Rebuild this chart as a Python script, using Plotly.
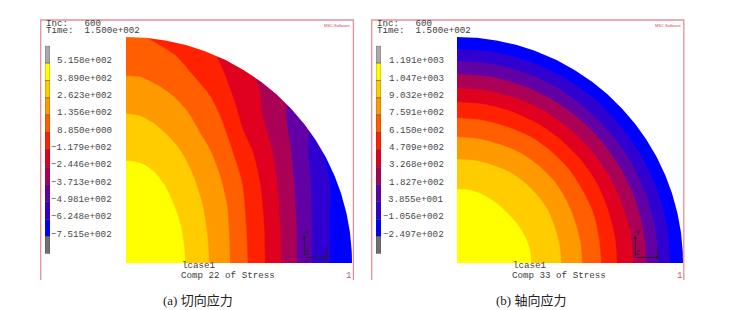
import numpy as np
import plotly.graph_objects as go

W, H = 735, 310

# ---------- values ----------
band_colors = ["#FFFF00", "#FFCC00", "#FF9900", "#FF5F00", "#FF2200",
               "#E0001F", "#AA0055", "#6000A5", "#3000D0", "#0000FF"]
outer_radius = 226
axis_span = 230

labels_a = ["5.158e+002", "3.890e+002", "2.623e+002", "1.356e+002", "8.850e+000", "\u22121.179e+002",
            "\u22122.446e+002", "\u22123.713e+002", "\u22124.981e+002", "\u22126.248e+002", "\u22127.515e+002"]
labels_b = ["1.191e+003", "1.047e+003", "9.032e+002", "7.591e+002", "6.150e+002", "4.709e+002",
            "3.268e+002", "1.827e+002", "3.855e+001", "\u22121.056e+002", "\u22122.497e+002"]
legend_colors = ["#ABABAB"] + band_colors + ["#707070"]

# Panel (a) iso-stress contours
a1_x = [0, 14, 27, 39, 47, 54, 58, 59]
a1_y = [102, 100, 92, 77, 60, 40, 17, 0]
a2_x = [0, 14, 27, 41, 54, 66, 76, 81, 83]
a2_y = [149, 147, 140, 128, 113, 90, 60, 30, 0]
a3_x = [0, 14, 31, 47, 61, 74, 84, 94, 101, 103, 104]
a3_y = [187, 186, 178, 167, 152, 130, 113, 87, 57, 30, 0]
a4_x = [19, 33, 50, 65, 77, 84, 94, 106, 116, 120, 121.5]
a4_y = [226, 218, 207, 190, 176, 167, 147, 113, 80, 37, 0]
a5_x = [91, 99, 109, 117, 126, 134, 138, 139]
a5_y = [206, 188, 160, 133, 113, 80, 37, 0]
a6_x = [130, 134, 136, 141, 146, 151, 154, 155]
a6_y = [185, 170, 150, 130, 113, 80, 37, 0]
a7_x = [161, 160, 164, 165, 168, 170.5, 170.5]
a7_y = [157, 147, 120, 113, 80, 37, 0]
a8_x = [183, 182, 184.7, 185.7, 185.7]
a8_y = [128.5, 113, 80, 47, 0]
a9_x = [195.7, 204, 203.5, 204]
a9_y = [113, 80, 47, 0]

# Panel (b) iso-stress contours, radius read at each angle
b_angles = [0, 10, 20, 30, 40, 50, 60, 70, 80, 90]
b1_r = [74, 74, 73, 72, 71, 71, 72, 73, 74, 74]
b2_r = [104, 104, 104, 105, 105, 105, 105, 104, 104, 104]
b3_r = [125, 125, 125, 126, 127, 127, 127, 126, 126, 126]
b4_r = [144, 144, 145, 145, 146, 146, 146, 145, 145, 145]
b5_r = [160, 160, 160, 161, 161, 161, 161, 161, 161, 161]
b6_r = [176, 176, 175, 175, 175, 175, 175, 175, 175, 175]
b7_r = [189, 189, 189, 189, 189, 189, 189, 189, 189, 189]
b8_r = [201, 201, 201, 201, 201, 201, 202, 202, 202, 202]
b9_r = [213, 213, 213, 213, 213, 214, 214, 214, 214, 214]

# ---------- helpers ----------
px = lambda x: x / W
py = lambda y: 1 - y / H
fig = go.Figure()
FAR = outer_radius + 30  # beyond the axis range, so clipped away


def add_base(color, xa, ya):
    fig.add_trace(go.Scatter(x=[0, FAR, FAR, 0, 0], y=[0, 0, FAR, FAR, 0], mode="lines",
                             fill="toself", fillcolor=color, line=dict(width=0),
                             hoverinfo="skip", showlegend=False, xaxis=xa, yaxis=ya))


def add_mask(xa, ya):
    # everything beyond the outer circle stays white
    t = np.radians(np.linspace(90, 0, 180))
    fig.add_trace(go.Scatter(x=np.r_[outer_radius * np.cos(t), FAR, FAR, -FAR, -FAR, 0],
                             y=np.r_[outer_radius * np.sin(t), 0, FAR, FAR, outer_radius, outer_radius],
                             mode="lines", fill="toself", fillcolor="white", line=dict(width=0),
                             hoverinfo="skip", showlegend=False, xaxis=xa, yaxis=ya))


def add_region(cx, cy, color, xa, ya):
    cx, cy = list(map(float, cx)), list(map(float, cy))
    # lead-in beyond the axes / outer circle: the curve stays smooth where it is visible
    if cx[0] == 0:
        sx, sy = -cx[1], cy[1]
    else:
        sx, sy = 2 * cx[0] - cx[1], 2 * cy[0] - cy[1]
    ex, ey = cx[-1], -cy[-2]
    xs = [sx] + cx + [ex, ex, -FAR, -FAR, sx, sx]
    ys = [sy] + cy + [ey, -FAR, -FAR, FAR, FAR, sy]
    fig.add_trace(go.Scatter(x=xs, y=ys, mode="lines", fill="toself", fillcolor=color,
                             line=dict(width=0.4, color=color, shape="spline", smoothing=0.8),
                             hoverinfo="skip", showlegend=False, xaxis=xa, yaxis=ya))


def add_legend(colors, xa, ya):
    n = len(colors)
    fig.add_trace(go.Bar(x=[0] * n, y=[1] * n, base=list(range(n - 1, -1, -1)), width=1,
                         marker=dict(color=colors, line=dict(width=0.6, color="rgba(50,50,50,0.65)")),
                         hoverinfo="skip", showlegend=False, xaxis=xa, yaxis=ya))


def text(x, y, s, size=9.2, color="#3c3c3c", anchor="left", family="Liberation Mono"):
    fig.add_annotation(x=px(x), y=py(y), xref="paper", yref="paper", text=s, showarrow=False,
                       xanchor=anchor, yanchor="middle", align="left",
                       font=dict(size=size, color=color, family=family), borderpad=0, borderwidth=0)


# ---------- quarter sections ----------
add_base(band_colors[9], "x", "y")
for cx, cy, col in zip([a9_x, a8_x, a7_x, a6_x, a5_x, a4_x, a3_x, a2_x, a1_x],
                       [a9_y, a8_y, a7_y, a6_y, a5_y, a4_y, a3_y, a2_y, a1_y],
                       band_colors[8::-1]):
    add_region(cx, cy, col, "x", "y")
add_mask("x", "y")

add_base(band_colors[9], "x2", "y2")
th = np.radians(b_angles)
for r, col in zip([b9_r, b8_r, b7_r, b6_r, b5_r, b4_r, b3_r, b2_r, b1_r], band_colors[8::-1]):
    r = np.asarray(r, float)
    add_region((r * np.cos(th))[::-1], (r * np.sin(th))[::-1], col, "x2", "y2")
add_mask("x2", "y2")

add_legend(legend_colors, "x3", "y3")
add_legend(legend_colors, "x4", "y4")

# ---------- axes (whole-pixel domains keep the clip edges crisp) ----------
hidden = dict(visible=False, showgrid=False, zeroline=False, fixedrange=True)
for name, x0 in (("", 126), ("2", 457)):
    fig.update_layout({
        "xaxis" + name: dict(hidden, domain=[px(x0), px(x0 + axis_span)], range=[0, axis_span]),
        "yaxis" + name: dict(hidden, domain=[py(263), py(263 - axis_span)], range=[0, axis_span]),
    })
for name, x0 in (("3", 45), ("4", 376)):
    fig.update_layout({
        "xaxis" + name: dict(hidden, domain=[px(x0), px(x0 + 5)], range=[-0.5, 0.5]),
        "yaxis" + name: dict(hidden, domain=[py(253.8), py(45.8)], range=[0, 12]),
    })

# ---------- legend labels ----------
for labels, xr, yr, right in ((labels_a, "x3", "y3", 112), (labels_b, "x4", "y4", 443.5)):
    x0 = 45 if xr == "x3" else 376
    for i, s in enumerate(labels):
        fig.add_annotation(x=0.5, y=11 - i, xref=xr, yref=yr, text=s, showarrow=False,
                           xanchor="right", yanchor="middle", xshift=right - (x0 + 5), yshift=2.2,
                           borderpad=0, borderwidth=0,
                           font=dict(size=9.2, color="#484848", family="Liberation Mono"))

# ---------- frames and panel texts ----------
for off, cap, comp, cap_x in ((0, "(a) 切向应力", "Comp 22 of Stress", 198),
                              (331, "(b) 轴向应力", "Comp 33 of Stress", 530.7)):
    x0, x1 = px(40.7 + off), px(353.4 + off - (0.6 if off else 0))
    y0, y1 = py(280), py(20)
    fig.add_shape(type="path", xref="paper", yref="paper",
                  path=f"M {x0} {y0} L {x0} {y1} L {x1} {y1} L {x1} {y0}",
                  line=dict(color="#E98F98", width=1.3))
    text(46.3 + off, 23.7, "Inc:\u00a0\u00a0\u00a0600")
    text(46.3 + off, 30.2, "Time:\u00a0\u00a01.500e+002")
    text(181.5 + off, 265.3, "lcase1")
    text(181 + off, 275.5, comp)
    text(349.3 + off - 0.5, 275.5, "1", color="#C8606C", anchor="center")
    text(337.5 + off, 26, "MSC.Software", size=4, color="#D8404C", anchor="center", family="Liberation Sans")
    text(cap_x, 300.7, cap, size=13, color="#222222", anchor="center",
         family="Liberation Serif, Noto Sans CJK SC")

    # coordinate triad
    ox, oy = 304.3 + off, 257.4
    for dx, dy in ((0, -22), (24, 0)):
        fig.add_annotation(x=px(ox + dx), y=py(oy + dy), ax=-dx, ay=-dy, xref="paper", yref="paper",
                           axref="pixel", ayref="pixel", text="", showarrow=True, arrowhead=2,
                           arrowsize=0.9, arrowwidth=0.8, arrowcolor="#222222")
    text(306.7 + off, 233, "Y", size=6.5, color="#222222", anchor="center")
    text(327 + off, 253.5, "X", size=6.5, color="#222222", anchor="center")
    text(306.7 + off, 253, "Z", size=6.5, color="#222222", anchor="center")

fig.update_layout(width=W, height=H, margin=dict(l=0, r=0, t=0, b=0), autosize=False,
                  paper_bgcolor="white", plot_bgcolor="rgba(0,0,0,0)", showlegend=False,
                  barmode="overlay")

fig.write_html("out.html", config={"displayModeBar": False},
               post_script="document.body.style.margin='0';")
